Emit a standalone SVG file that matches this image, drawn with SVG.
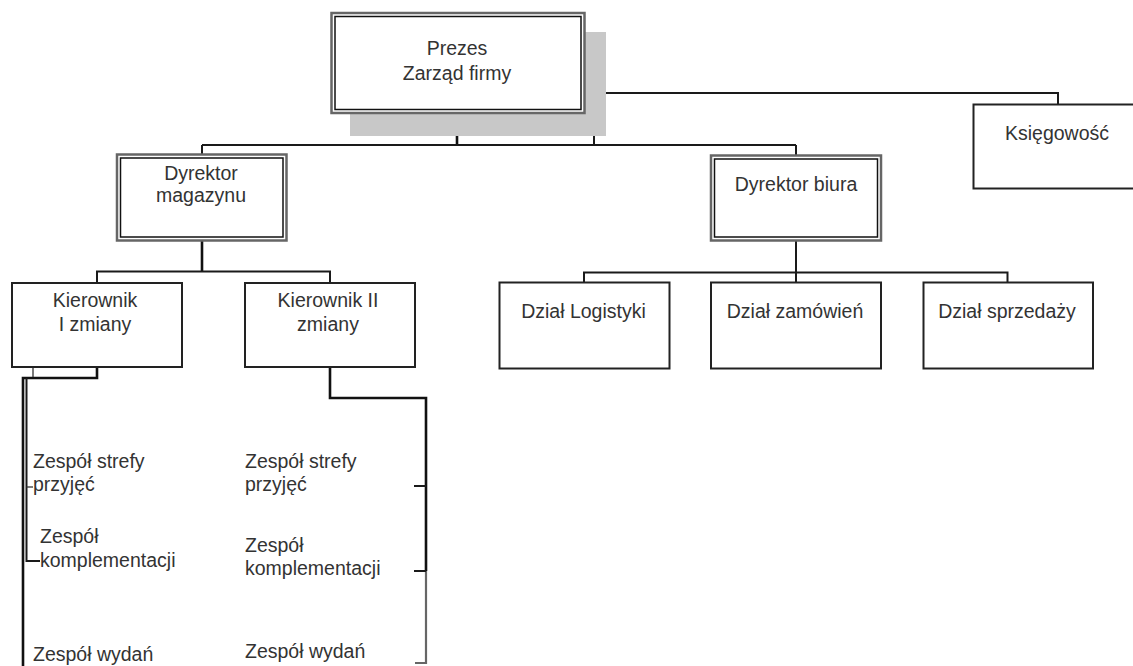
<svg xmlns="http://www.w3.org/2000/svg" width="1133" height="666" viewBox="0 0 1133 666">
<style>
  text { font-family: "Liberation Sans", Arial, sans-serif; font-size: 19.5px; fill: #333; }
  .c { text-anchor: middle; }
  .box { fill: #fff; stroke: #222; stroke-width: 2; }
  .outer { fill: #fff; stroke: #666; stroke-width: 2.5; }
  .inner { fill: none; stroke: #111; stroke-width: 1.5; }
  .ln { fill: none; stroke: #1a1a1a; stroke-width: 2; }
  .thick { fill: none; stroke: #111; stroke-width: 2.6; }
  .thin { fill: none; stroke: #333; stroke-width: 1.3; }
  .grey { fill: none; stroke: #666; stroke-width: 2.2; }
</style>
<rect width="1133" height="666" fill="#fff"/>

<g id="connectors">
  <path class="thick" d="M457 113 V145"/>
  <path class="ln" d="M202 145 H796"/>
  <path class="ln" d="M202 145 V154.5"/>
  <path class="ln" d="M796 145 V155.5"/>
  <path class="ln" d="M594 145 V93 H1058 V104.5"/>
  <path class="thick" d="M202 240.5 V271.5"/>
  <path class="ln" d="M97 283 V271.5 H330 V283"/>
  <path class="ln" d="M796 240.5 V282.5"/>
  <path class="ln" d="M584 282.5 V272.5 H1007.5 V282.5"/>
  <path class="thick" d="M97 367 V378 H23 V666"/>
  <path class="thin" d="M33 367 V377"/>
  <path class="ln" d="M26.5 378 V561 H40"/>
  <path class="thin" d="M26.5 487 H33"/>
  <path class="thick" d="M330 367 V398 H426 V571"/>
  <path class="grey" d="M426 571 V663 H415"/>
  <path class="ln" d="M414 486 H426"/>
  <path class="ln" d="M414 571 H426"/>
</g>

<g id="prezes">
  <rect x="350" y="32" width="256" height="104" fill="#c8c8c8"/>
  <rect class="outer" x="331.5" y="13" width="253" height="100"/>
  <rect class="inner" x="335" y="16.5" width="246" height="93"/>
  <text class="c" x="457" y="55">Prezes</text>
  <text class="c" x="457" y="80">Zarząd firmy</text>
</g>

<g id="ksiegowosc">
  <rect class="box" x="973.5" y="104.5" width="170" height="84"/>
  <text class="c" x="1057" y="140">Księgowość</text>
</g>

<g id="dyrektor-magazynu">
  <rect class="outer" x="117" y="154.5" width="169.5" height="86"/>
  <rect class="inner" x="120.5" y="158" width="162.5" height="79"/>
  <text class="c" x="201" y="180">Dyrektor</text>
  <text class="c" x="201" y="202">magazynu</text>
</g>

<g id="dyrektor-biura">
  <rect class="outer" x="711" y="155.5" width="170" height="85"/>
  <rect class="inner" x="714.5" y="159" width="163" height="78"/>
  <text class="c" x="796" y="191">Dyrektor biura</text>
</g>

<g id="kierownik-1">
  <rect class="box" x="12" y="283" width="170" height="84"/>
  <text class="c" x="95" y="307">Kierownik</text>
  <text class="c" x="95" y="331">I zmiany</text>
</g>

<g id="kierownik-2">
  <rect class="box" x="245" y="283" width="170" height="84"/>
  <text class="c" x="328" y="307">Kierownik II</text>
  <text class="c" x="328" y="331">zmiany</text>
</g>

<g id="dzial-logistyki">
  <rect class="box" x="499.5" y="282.5" width="170" height="86"/>
  <text class="c" x="583.5" y="318">Dział Logistyki</text>
</g>

<g id="dzial-zamowien">
  <rect class="box" x="711" y="282.5" width="170" height="86"/>
  <text class="c" x="795" y="318">Dział zamówień</text>
</g>

<g id="dzial-sprzedazy">
  <rect class="box" x="923.5" y="282.5" width="169.5" height="86"/>
  <text class="c" x="1007" y="318">Dział sprzedaży</text>
</g>

<g id="zespol-strefy-1">
  <text x="33" y="468">Zespół strefy</text>
  <text x="33" y="491">przyjęć</text>
</g>
<g id="zespol-komplementacji-1">
  <text x="40" y="543">Zespół</text>
  <text x="40" y="567">komplementacji</text>
</g>
<g id="zespol-wydan-1">
  <text x="33" y="661">Zespół wydań</text>
</g>

<g id="zespol-strefy-2">
  <text x="245" y="468">Zespół strefy</text>
  <text x="245" y="491">przyjęć</text>
</g>
<g id="zespol-komplementacji-2">
  <text x="245" y="552">Zespół</text>
  <text x="245" y="575">komplementacji</text>
</g>
<g id="zespol-wydan-2">
  <text x="245" y="658">Zespół wydań</text>
</g>
</svg>
